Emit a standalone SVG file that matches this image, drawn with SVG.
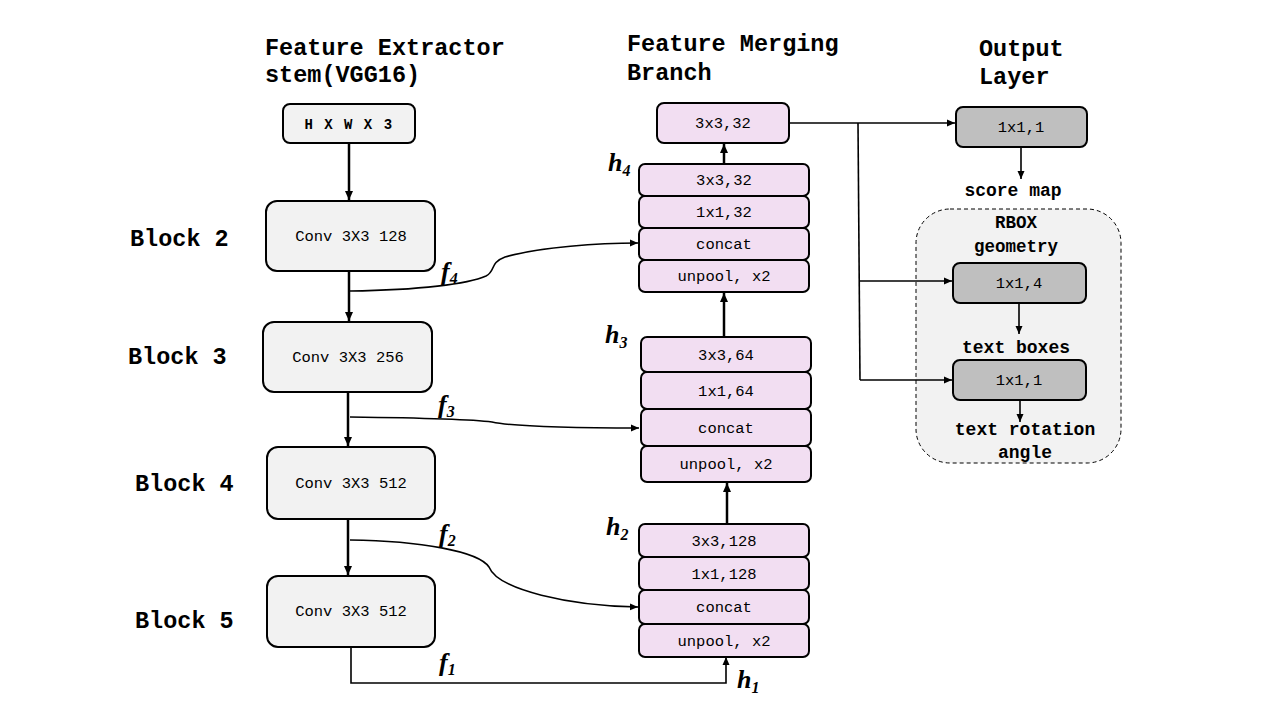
<svg xmlns="http://www.w3.org/2000/svg" width="1280" height="720" viewBox="0 0 1280 720">
<defs>
<style>
.title{font-family:"Liberation Mono",monospace;font-weight:bold;font-size:23.5px;fill:#000}
.blk{font-family:"Liberation Mono",monospace;font-weight:bold;font-size:23.5px;fill:#000}
.t{font-family:"Liberation Mono",monospace;font-size:15.5px;fill:#000;text-anchor:middle}
.lbl{font-family:"Liberation Mono",monospace;font-weight:bold;font-size:17.5px;fill:#000;text-anchor:middle}
.var{font-family:"Liberation Serif",serif;font-weight:bold;font-style:italic;font-size:26px;fill:#000}
.sub{font-size:16px}
.gbox{fill:#f2f2f2;stroke:#000;stroke-width:2}
.pbox{fill:#f2def2;stroke:#000;stroke-width:2}
.obox{fill:#bfbfbf;stroke:#000;stroke-width:2}
.thick{fill:none;stroke:#000;stroke-width:2.5}
.thin{fill:none;stroke:#000;stroke-width:1.6}
</style>
<marker id="ah" markerUnits="userSpaceOnUse" markerWidth="10" markerHeight="10" refX="9" refY="5" orient="auto">
<path d="M0,1 L9,5 L0,9 z" fill="#000"/>
</marker>
<marker id="as" markerUnits="userSpaceOnUse" markerWidth="9" markerHeight="8" refX="8" refY="4" orient="auto">
<path d="M0,0.5 L8,4 L0,7.5 z" fill="#000"/>
</marker>
</defs>
<rect width="1280" height="720" fill="#fff"/>

<g id="titles">
<text class="title" x="265" y="55">Feature Extractor</text>
<text class="title" x="265" y="82">stem(VGG16)</text>
<text class="title" x="627" y="51">Feature Merging</text>
<text class="title" x="627" y="80">Branch</text>
<text class="title" x="979" y="56">Output</text>
<text class="title" x="979" y="84">Layer</text>
</g>

<g id="block-labels">
<text class="blk" x="130" y="246">Block 2</text>
<text class="blk" x="128" y="364">Block 3</text>
<text class="blk" x="135" y="491">Block 4</text>
<text class="blk" x="135" y="628">Block 5</text>
</g>

<g id="rbox">
<rect x="916" y="209" width="205" height="254" rx="34" fill="#f2f2f2" stroke="#000" stroke-width="1" stroke-dasharray="4,3"/>
<text class="lbl" x="1016" y="228">RBOX</text>
<text class="lbl" x="1016" y="252">geometry</text>
</g>

<g id="connectors">
<path class="thick" d="M349,143 L349,200" marker-end="url(#ah)"/>
<path class="thick" d="M349,271 L349,321" marker-end="url(#ah)"/>
<path class="thick" d="M348,392 L348,446" marker-end="url(#ah)"/>
<path class="thick" d="M348,519 L348,575" marker-end="url(#ah)"/>
<path class="thin" d="M351,647 L351,683 L726,683 L726,657" marker-end="url(#as)"/>
<path class="thin" d="M350,291 C420,290 468,284 486,276 C496,271 489,263 505,257 C540,247 600,243 638,243" marker-end="url(#as)"/>
<path class="thin" d="M350,417 C430,418 470,419 492,422 C510,426 560,428 639,428" marker-end="url(#as)"/>
<path class="thin" d="M350,540 C420,541 478,551 489,567 C498,590 570,606 638,607" marker-end="url(#as)"/>
<path class="thick" d="M727,524 L727,483" marker-end="url(#ah)"/>
<path class="thick" d="M724,337 L724,293" marker-end="url(#ah)"/>
<path class="thick" d="M724,164 L724,144" marker-end="url(#ah)"/>
<path class="thin" d="M789,123 L955,123" marker-end="url(#as)"/>
<path class="thin" d="M858,123 L860,380"/>
<path class="thin" d="M859,281 L952,281" marker-end="url(#as)"/>
<path class="thin" d="M860,380 L952,380" marker-end="url(#as)"/>
<path class="thin" d="M1021,147 L1021,179" marker-end="url(#as)"/>
<path class="thin" d="M1019,303 L1019,334" marker-end="url(#as)"/>
<path class="thin" d="M1020,400 L1020,422" marker-end="url(#as)"/>
</g>

<g id="input">
<rect class="gbox" x="283" y="104" width="132" height="39" rx="7"/>
<text class="t" x="349" y="129" style="font-weight:bold;font-size:14px;letter-spacing:1.5px">H X W X 3</text>
</g>
<g id="block2">
<rect class="gbox" x="266" y="201" width="169" height="70" rx="11"/>
<text class="t" x="351" y="241">Conv 3X3 128</text>
</g>
<g id="block3">
<rect class="gbox" x="263" y="322" width="169" height="70" rx="11"/>
<text class="t" x="348" y="362">Conv 3X3 256</text>
</g>
<g id="block4">
<rect class="gbox" x="267" y="447" width="168" height="72" rx="11"/>
<text class="t" x="351" y="488">Conv 3X3 512</text>
</g>
<g id="block5">
<rect class="gbox" x="267" y="576" width="168" height="71" rx="11"/>
<text class="t" x="351" y="616">Conv 3X3 512</text>
</g>

<g id="merge-out">
<rect class="pbox" x="657" y="103" width="132" height="40" rx="7"/>
<text class="t" x="723" y="128">3x3,32</text>
</g>
<g id="stack-h4">
<rect class="pbox" x="639" y="164" width="170" height="32" rx="6"/>
<text class="t" x="724" y="185">3x3,32</text>
<rect class="pbox" x="639" y="196" width="170" height="32" rx="6"/>
<text class="t" x="724" y="217">1x1,32</text>
<rect class="pbox" x="639" y="228" width="170" height="32" rx="6"/>
<text class="t" x="724" y="249">concat</text>
<rect class="pbox" x="639" y="260" width="170" height="32" rx="6"/>
<text class="t" x="724" y="281">unpool, x2</text>
</g>
<g id="stack-h3">
<rect class="pbox" x="641" y="337" width="170" height="35" rx="6"/>
<text class="t" x="726" y="360">3x3,64</text>
<rect class="pbox" x="641" y="372" width="170" height="37" rx="6"/>
<text class="t" x="726" y="396">1x1,64</text>
<rect class="pbox" x="641" y="409" width="170" height="37" rx="6"/>
<text class="t" x="726" y="433">concat</text>
<rect class="pbox" x="641" y="446" width="170" height="36" rx="6"/>
<text class="t" x="726" y="469">unpool, x2</text>
</g>
<g id="stack-h2">
<rect class="pbox" x="639" y="524" width="170" height="33" rx="6"/>
<text class="t" x="724" y="546">3x3,128</text>
<rect class="pbox" x="639" y="557" width="170" height="33" rx="6"/>
<text class="t" x="724" y="579">1x1,128</text>
<rect class="pbox" x="639" y="590" width="170" height="34" rx="6"/>
<text class="t" x="724" y="612">concat</text>
<rect class="pbox" x="639" y="624" width="170" height="33" rx="6"/>
<text class="t" x="724" y="646">unpool, x2</text>
</g>

<g id="score">
<rect class="obox" x="956" y="107" width="131" height="40" rx="7"/>
<text class="t" x="1021" y="132">1x1,1</text>
<text class="lbl" x="1013" y="196" style="font-size:18px">score map</text>
</g>
<g id="geo">
<rect class="obox" x="953" y="263" width="133" height="40" rx="7"/>
<text class="t" x="1019" y="288">1x1,4</text>
<text class="lbl" x="1016" y="353" style="font-size:18px">text boxes</text>
</g>
<g id="angle">
<rect class="obox" x="953" y="360" width="133" height="40" rx="7"/>
<text class="t" x="1019" y="385">1x1,1</text>
<text class="lbl" x="1025" y="435" style="font-size:18px">text rotation</text>
<text class="lbl" x="1025" y="458" style="font-size:18px">angle</text>
</g>

<g id="var-labels">
<text class="var" x="441" y="280">f<tspan class="sub" dy="4">4</tspan></text>
<text class="var" x="438" y="413">f<tspan class="sub" dy="4">3</tspan></text>
<text class="var" x="439" y="542">f<tspan class="sub" dy="4">2</tspan></text>
<text class="var" x="439" y="671">f<tspan class="sub" dy="4">1</tspan></text>
<text class="var" x="608" y="171">h<tspan class="sub" dy="5">4</tspan></text>
<text class="var" x="605" y="343">h<tspan class="sub" dy="5">3</tspan></text>
<text class="var" x="606" y="535">h<tspan class="sub" dy="5">2</tspan></text>
<text class="var" x="737" y="688">h<tspan class="sub" dy="5">1</tspan></text>
</g>
</svg>
